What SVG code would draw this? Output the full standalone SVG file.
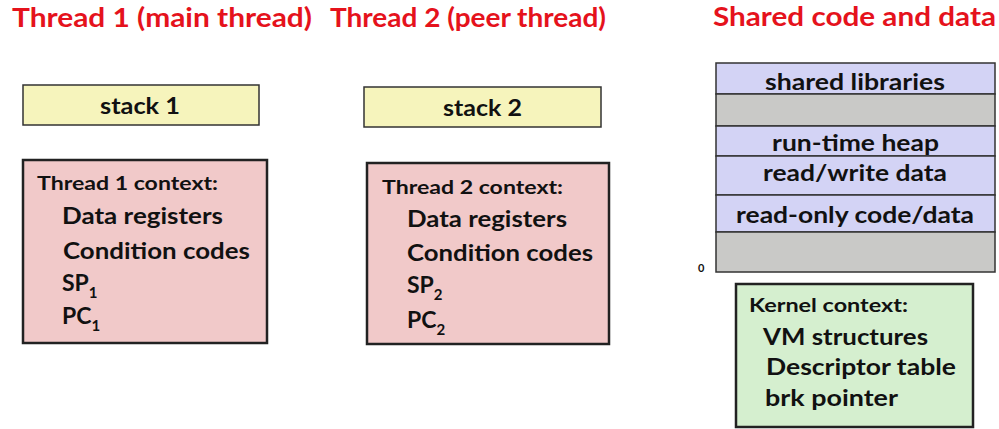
<svg xmlns="http://www.w3.org/2000/svg" width="999" height="429" viewBox="0 0 999 429">
  <style>
    text { font-family: Lato, "Open Sans", "Liberation Sans", sans-serif; font-weight: bold; fill: #111; }
    .title { fill: #e5121c; font-size: 27px; }
    .item { font-size: 23px; }
    .head { font-size: 19px; }
    .sub { font-size: 15px; }
    .stack { fill: #f6f4bc; stroke: #333; stroke-width: 1.5; }
    .ctx { fill: #f1c9c9; stroke: #222; stroke-width: 2.5; }
    .seg { fill: #d3d3f5; stroke: #333; stroke-width: 1.5; }
    .gap { fill: #c9c9c7; stroke: #333; stroke-width: 1.5; }
    .kern { fill: #d5efcf; stroke: #222; stroke-width: 2.5; }
  </style>
  <rect width="999" height="429" fill="#ffffff"/>

  <!-- column headings -->
  <text class="title" x="12" y="27" textLength="300" lengthAdjust="spacingAndGlyphs">Thread 1 (main thread)</text>
  <text class="title" x="330" y="27" textLength="276" lengthAdjust="spacingAndGlyphs">Thread 2 (peer thread)</text>
  <text class="title" x="713" y="26" textLength="283" lengthAdjust="spacingAndGlyphs">Shared code and data</text>

  <!-- thread 1 -->
  <g id="stack1">
    <rect class="stack" x="23" y="85" width="236" height="40"/>
    <text class="item" x="100" y="114" textLength="80" lengthAdjust="spacingAndGlyphs">stack 1</text>
  </g>
  <g id="context1">
    <rect class="ctx" x="23" y="160" width="244" height="183"/>
    <text class="head" x="37" y="190" textLength="181" lengthAdjust="spacingAndGlyphs">Thread 1 context:</text>
    <text class="item" x="62" y="224" textLength="161" lengthAdjust="spacingAndGlyphs">Data registers</text>
    <text class="item" x="63" y="259" textLength="187" lengthAdjust="spacingAndGlyphs">Condition codes</text>
    <text class="item" x="62" y="291">SP<tspan class="sub" dy="7">1</tspan></text>
    <text class="item" x="62" y="324">PC<tspan class="sub" dy="7">1</tspan></text>
  </g>

  <!-- thread 2 -->
  <g id="stack2">
    <rect class="stack" x="364" y="87" width="237" height="40"/>
    <text class="item" x="443" y="116" textLength="79" lengthAdjust="spacingAndGlyphs">stack 2</text>
  </g>
  <g id="context2">
    <rect class="ctx" x="367" y="163" width="242" height="181"/>
    <text class="head" x="382" y="194" textLength="181" lengthAdjust="spacingAndGlyphs">Thread 2 context:</text>
    <text class="item" x="407" y="227" textLength="160" lengthAdjust="spacingAndGlyphs">Data registers</text>
    <text class="item" x="407" y="261" textLength="186" lengthAdjust="spacingAndGlyphs">Condition codes</text>
    <text class="item" x="407" y="293">SP<tspan class="sub" dy="7">2</tspan></text>
    <text class="item" x="407" y="328">PC<tspan class="sub" dy="7">2</tspan></text>
  </g>

  <!-- shared address space -->
  <g id="shared-memory">
    <rect class="seg" x="716" y="63" width="279" height="31"/>
    <rect class="gap" x="716" y="94" width="279" height="32"/>
    <rect class="seg" x="716" y="126" width="279" height="30"/>
    <rect class="seg" x="716" y="156" width="279" height="39"/>
    <rect class="seg" x="716" y="195" width="279" height="37"/>
    <rect class="gap" x="716" y="232" width="279" height="40"/>
    <text class="item" x="765" y="90" textLength="180" lengthAdjust="spacingAndGlyphs">shared libraries</text>
    <text class="item" x="772" y="151" textLength="167" lengthAdjust="spacingAndGlyphs">run-time heap</text>
    <text class="item" x="763" y="181" textLength="184" lengthAdjust="spacingAndGlyphs">read/write data</text>
    <text class="item" x="736" y="223" textLength="238" lengthAdjust="spacingAndGlyphs">read-only code/data</text>
    <text x="698" y="272" font-size="11">0</text>
  </g>

  <g id="kernel-context">
    <rect class="kern" x="736" y="284" width="237" height="143"/>
    <text class="head" x="749" y="312" textLength="159" lengthAdjust="spacingAndGlyphs">Kernel context:</text>
    <text class="item" x="763" y="345" textLength="165" lengthAdjust="spacingAndGlyphs">VM structures</text>
    <text class="item" x="766" y="375" textLength="190" lengthAdjust="spacingAndGlyphs">Descriptor table</text>
    <text class="item" x="765" y="406" textLength="133" lengthAdjust="spacingAndGlyphs">brk pointer</text>
  </g>
</svg>
